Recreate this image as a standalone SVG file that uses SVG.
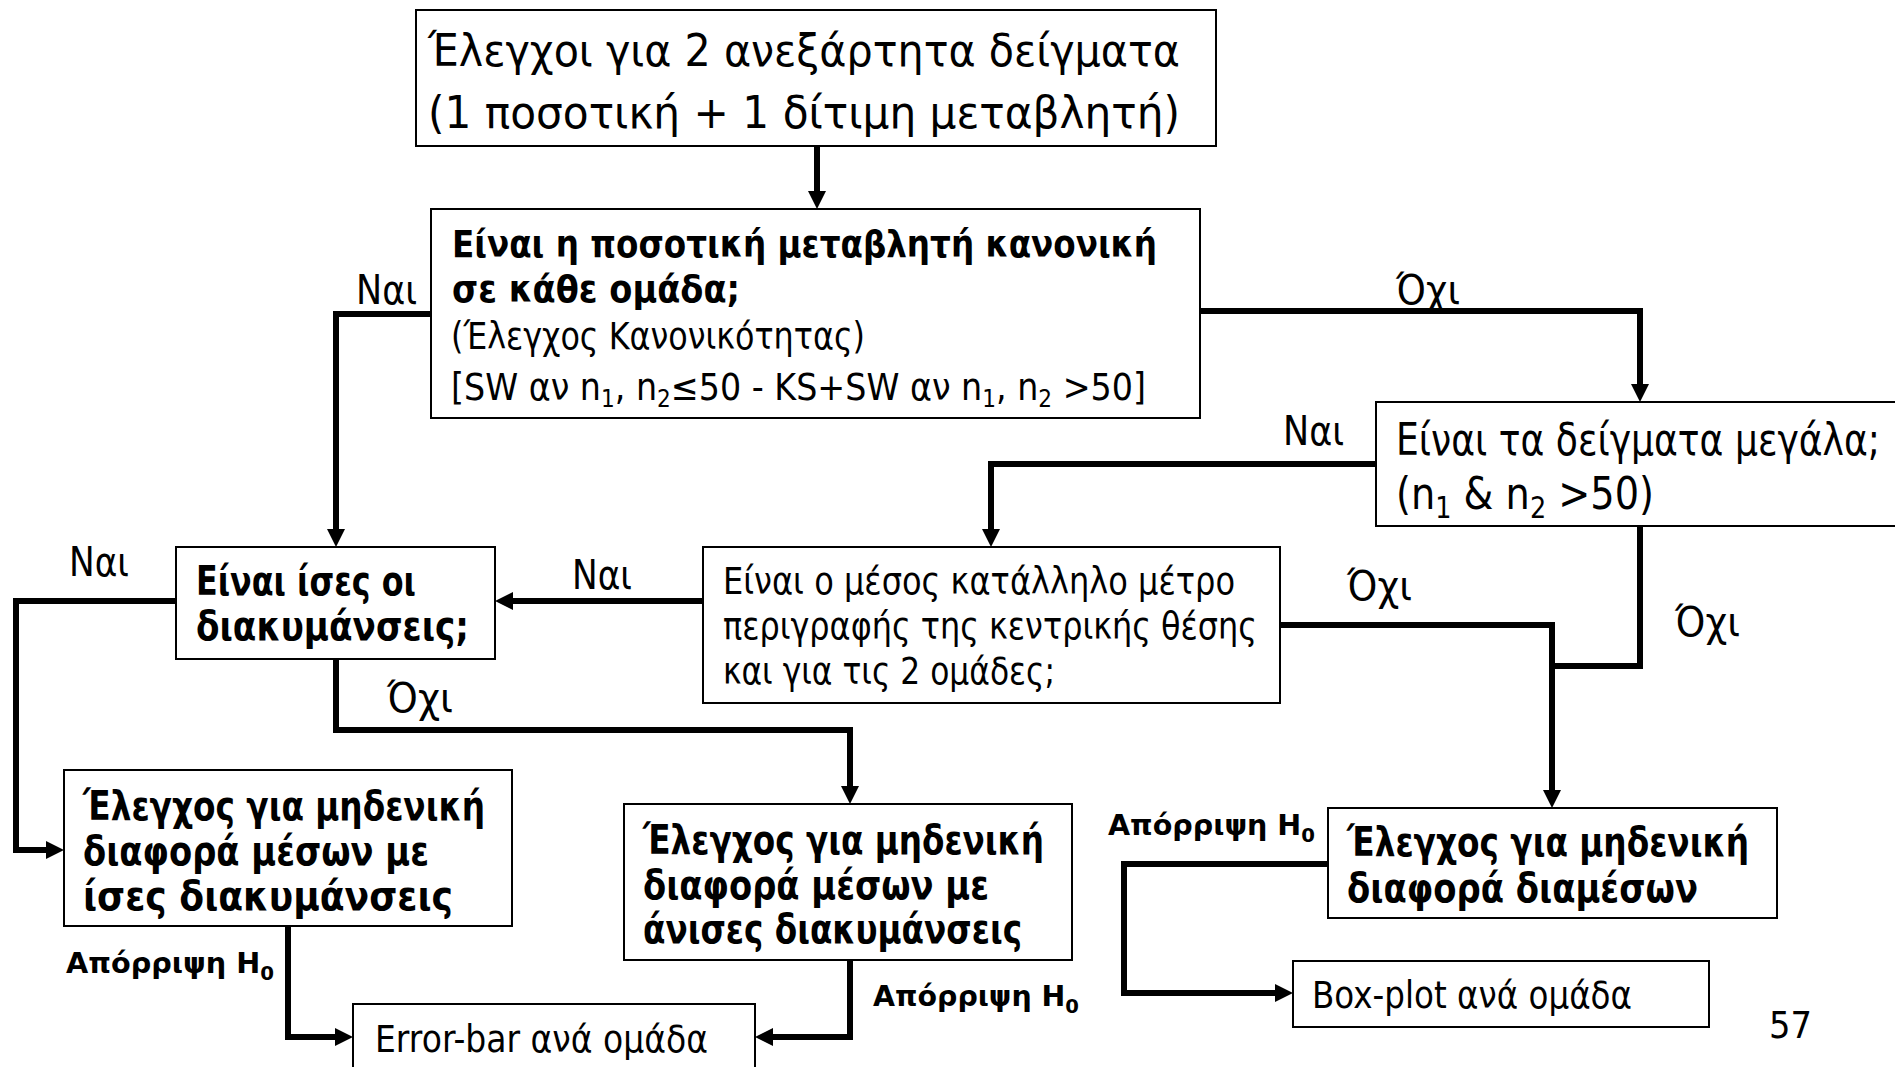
<svg xmlns="http://www.w3.org/2000/svg" width="1895" height="1067" viewBox="0 0 1895 1067">
  <style>
    .box { fill: #fff; stroke: #000; stroke-width: 2; }
    .wire { fill: none; stroke: #000; stroke-width: 6; stroke-linejoin: miter; }
    text { font-family: "DejaVu Sans", "Liberation Sans", sans-serif; fill: #000; }
    .big { font-size: 45px; }
    .mid { font-size: 37px; }
    .bmid { font-size: 37px; font-weight: bold; }
    .bbox { font-size: 41px; font-weight: bold; }
    .lbl { font-size: 41px; }
    .rej { font-size: 29px; font-weight: bold; }
  </style>
  <defs>
    <marker id="arrow" markerUnits="userSpaceOnUse" viewBox="0 -9 18 18" refX="0" refY="0" markerWidth="18" markerHeight="18" orient="auto">
      <path d="M0,-9 L18,0 L0,9 z" fill="#000"/>
    </marker>
  </defs>

  <!-- connectors -->
  <g id="connectors">
    <path class="wire" d="M817,146 V191" marker-end="url(#arrow)"/>
    <path class="wire" d="M431,314 H336 V529" marker-end="url(#arrow)"/>
    <path class="wire" d="M1200,311 H1640 V384" marker-end="url(#arrow)"/>
    <path class="wire" d="M1376,464 H991 V529" marker-end="url(#arrow)"/>
    <path class="wire" d="M1640,526 V666 H1552"/>
    <path class="wire" d="M1280,625 H1552 V790" marker-end="url(#arrow)"/>
    <path class="wire" d="M703,601 H513" marker-end="url(#arrow)"/>
    <path class="wire" d="M176,601 H16 V850 H46" marker-end="url(#arrow)"/>
    <path class="wire" d="M336,659 V730 H850 V786" marker-end="url(#arrow)"/>
    <path class="wire" d="M288,926 V1037 H335" marker-end="url(#arrow)"/>
    <path class="wire" d="M850,960 V1037 H773" marker-end="url(#arrow)"/>
    <path class="wire" d="M1328,864 H1124 V993 H1275" marker-end="url(#arrow)"/>
  </g>

  <!-- branch labels -->
  <g id="labels">
    <text class="lbl" x="356" y="304" textLength="61" lengthAdjust="spacingAndGlyphs">Ναι</text>
    <text class="lbl" x="1396" y="304" textLength="64" lengthAdjust="spacingAndGlyphs">Όχι</text>
    <text class="lbl" x="1283" y="445" textLength="61" lengthAdjust="spacingAndGlyphs">Ναι</text>
    <text class="lbl" x="572" y="589" textLength="60" lengthAdjust="spacingAndGlyphs">Ναι</text>
    <text class="lbl" x="69" y="576" textLength="60" lengthAdjust="spacingAndGlyphs">Ναι</text>
    <text class="lbl" x="387" y="712" textLength="66" lengthAdjust="spacingAndGlyphs">Όχι</text>
    <text class="lbl" x="1347" y="600" textLength="65" lengthAdjust="spacingAndGlyphs">Όχι</text>
    <text class="lbl" x="1675" y="636" textLength="65" lengthAdjust="spacingAndGlyphs">Όχι</text>
    <text class="rej" x="66" y="973" textLength="208" lengthAdjust="spacingAndGlyphs">Απόρριψη H<tspan font-size="20" dy="7">0</tspan></text>
    <text class="rej" x="873" y="1006" textLength="206" lengthAdjust="spacingAndGlyphs">Απόρριψη H<tspan font-size="20" dy="7">0</tspan></text>
    <text class="rej" x="1108" y="835" textLength="207" lengthAdjust="spacingAndGlyphs">Απόρριψη H<tspan font-size="20" dy="7">0</tspan></text>
  </g>

  <g id="start">
    <rect class="box" x="416" y="10" width="800" height="136"/>
    <text class="big" x="428" y="66" textLength="752" lengthAdjust="spacingAndGlyphs">Έλεγχοι για 2 ανεξάρτητα δείγματα</text>
    <text class="big" x="428" y="128" textLength="752" lengthAdjust="spacingAndGlyphs">(1 ποσοτική + 1 δίτιμη μεταβλητή)</text>
  </g>

  <g id="normality">
    <rect class="box" x="431" y="209" width="769" height="209"/>
    <text class="bmid" x="452" y="257" textLength="705" lengthAdjust="spacingAndGlyphs">Είναι η ποσοτική μεταβλητή κανονική</text>
    <text class="bmid" x="452" y="302" textLength="288" lengthAdjust="spacingAndGlyphs">σε κάθε ομάδα;</text>
    <text class="mid" x="451" y="349" textLength="414" lengthAdjust="spacingAndGlyphs">(Έλεγχος Κανονικότητας)</text>
    <text class="mid" x="451" y="400" textLength="695" lengthAdjust="spacingAndGlyphs">[SW αν n<tspan font-size="24" dy="7">1</tspan><tspan dy="-7">, n</tspan><tspan font-size="24" dy="7">2</tspan><tspan dy="-7">≤50 - KS+SW αν n</tspan><tspan font-size="24" dy="7">1</tspan><tspan dy="-7">, n</tspan><tspan font-size="24" dy="7">2</tspan><tspan dy="-7"> &gt;50]</tspan></text>
  </g>

  <g id="large-samples">
    <rect class="box" x="1376" y="402" width="540" height="124"/>
    <text class="big" x="1396" y="455" textLength="484" lengthAdjust="spacingAndGlyphs">Είναι τα δείγματα μεγάλα;</text>
    <text class="big" x="1396" y="509" textLength="258" lengthAdjust="spacingAndGlyphs">(n<tspan font-size="30" dy="9">1</tspan><tspan dy="-9"> &amp; n</tspan><tspan font-size="30" dy="9">2</tspan><tspan dy="-9"> &gt;50)</tspan></text>
  </g>

  <g id="equal-variances">
    <rect class="box" x="176" y="547" width="319" height="112"/>
    <text class="bbox" x="196" y="595" textLength="220" lengthAdjust="spacingAndGlyphs">Είναι ίσες οι</text>
    <text class="bbox" x="196" y="640" textLength="273" lengthAdjust="spacingAndGlyphs">διακυμάνσεις;</text>
  </g>

  <g id="mean-suitable">
    <rect class="box" x="703" y="547" width="577" height="156"/>
    <text class="mid" x="723" y="594" textLength="512" lengthAdjust="spacingAndGlyphs">Είναι ο μέσος κατάλληλο μέτρο</text>
    <text class="mid" x="723" y="639" textLength="534" lengthAdjust="spacingAndGlyphs">περιγραφής της κεντρικής θέσης</text>
    <text class="mid" x="723" y="684" textLength="332" lengthAdjust="spacingAndGlyphs">και για τις 2 ομάδες;</text>
  </g>

  <g id="test-equal">
    <rect class="box" x="64" y="770" width="448" height="156"/>
    <text class="bbox" x="83" y="820" textLength="402" lengthAdjust="spacingAndGlyphs">Έλεγχος για μηδενική</text>
    <text class="bbox" x="83" y="865" textLength="346" lengthAdjust="spacingAndGlyphs">διαφορά μέσων με</text>
    <text class="bbox" x="83" y="910" textLength="370" lengthAdjust="spacingAndGlyphs">ίσες διακυμάνσεις</text>
  </g>

  <g id="test-unequal">
    <rect class="box" x="624" y="804" width="448" height="156"/>
    <text class="bbox" x="643" y="854" textLength="401" lengthAdjust="spacingAndGlyphs">Έλεγχος για μηδενική</text>
    <text class="bbox" x="643" y="899" textLength="346" lengthAdjust="spacingAndGlyphs">διαφορά μέσων με</text>
    <text class="bbox" x="643" y="943" textLength="379" lengthAdjust="spacingAndGlyphs">άνισες διακυμάνσεις</text>
  </g>

  <g id="test-medians">
    <rect class="box" x="1328" y="808" width="449" height="110"/>
    <text class="bbox" x="1347" y="856" textLength="402" lengthAdjust="spacingAndGlyphs">Έλεγχος για μηδενική</text>
    <text class="bbox" x="1347" y="902" textLength="351" lengthAdjust="spacingAndGlyphs">διαφορά διαμέσων</text>
  </g>

  <g id="error-bar">
    <rect class="box" x="353" y="1004" width="402" height="80"/>
    <text class="mid" x="375" y="1052" textLength="333" lengthAdjust="spacingAndGlyphs">Error-bar ανά ομάδα</text>
  </g>

  <g id="box-plot">
    <rect class="box" x="1293" y="961" width="416" height="66"/>
    <text class="mid" x="1312" y="1008" textLength="320" lengthAdjust="spacingAndGlyphs">Box-plot ανά ομάδα</text>
  </g>

  <text class="mid" x="1769" y="1038" textLength="43" lengthAdjust="spacingAndGlyphs">57</text>
</svg>
